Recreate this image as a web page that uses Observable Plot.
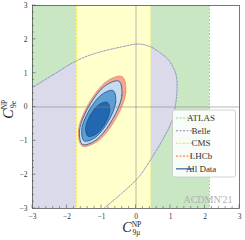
<!DOCTYPE html>
<html><head><meta charset="utf-8">
<script src="https://cdn.jsdelivr.net/npm/d3@7"></script>
<script src="https://cdn.jsdelivr.net/npm/@observablehq/plot@0.6"></script>
<style>body{margin:0;background:#fff} svg{display:block}</style>
</head><body><div id="chart"></div>
<script>
// ---- data ----
const xDomain = [-3, 3];
const yDomain = [-3, 3];
const xTicks = [-3, -2, -1, 0, 1, 2, 3];
const yTicks = [-3, -2, -1, 0, 1, 2, 3];

// vertical bands (1D constraints): ATLAS, CMS
const bandNames = ["ATLAS", "CMS"];
const bandLow  = [-4.5, -1.72];
const bandHigh = [2.13, 0.44];

// Belle contour (visible arc read off the picture + estimated hidden part outside the frame)
const belleX = [-3.0, -2.39, -1.72, -1.13, -0.40, 0.08, 0.42, 0.66, 0.95, 1.15, 1.19, 1.15, 1.05, 0.76, 0.44, 0.08, -0.40, -0.94, -1.5, -2.4, -3.3, -4.0, -4.3, -4.1, -3.6];
const belleY = [0.57, 0.96, 1.37, 1.60, 1.78, 1.86, 1.78, 1.63, 1.38, 0.99, 0.59, 0.10, -0.39, -0.99, -1.53, -2.07, -2.54, -3.00, -3.45, -3.85, -3.8, -3.2, -2.1, -0.9, 0.1];

// LHCb contour
const lhcbX = [-0.400, -0.295, -0.591, -1.115, -1.560, -1.665, -1.369, -0.845];
const lhcbY = [0.898, 0.436, -0.356, -1.014, -1.152, -0.690, 0.102, 0.760];

// All data: 3 sigma, 2 sigma, 1 sigma contours
const all3X = [-0.494, -0.409, -0.684, -1.157, -1.552, -1.637, -1.362, -0.889];
const all3Y = [0.763, 0.348, -0.372, -0.975, -1.107, -0.692, 0.028, 0.631];
const all2X = [-0.661, -0.589, -0.805, -1.183, -1.501, -1.573, -1.357, -0.979];
const all2Y = [0.483, 0.150, -0.423, -0.900, -1.003, -0.670, -0.097, 0.380];
const all1X = [-0.827, -0.759, -0.897, -1.159, -1.393, -1.461, -1.323, -1.061];
const all1Y = [0.136, -0.100, -0.490, -0.806, -0.864, -0.628, -0.238, 0.078];

const legendLabels = ["ATLAS", "Belle", "CMS", "LHCb", "All Data"];
const watermark = "ACDMN'21";

// ---- styles ----
const col = {
  atlasFill: "#c9e7c2", atlasLine: "#8fd98f",
  belleFill: "#dadaeb", belleLine: "#8a8ac4",
  cmsFill: "#ffffcc", cmsLine: "#eeee3a",
  lhcbFill: "#f6a792", lhcbLine: "#ec8466",
  c3: "#c4dbf0", c2: "#5e9fd3", c1: "#2268b0", cEdge: "#1f4d86",
  legendAll: "#5a7fab"
};
const legendColors = [col.atlasLine, col.belleLine, col.cmsLine, col.lhcbLine, col.legendAll];

const pts = (xs, ys) => xs.map((x, i) => ({x, y: ys[i]}));
const bands = bandNames.map((name, i) => ({name, lo: bandLow[i], hi: bandHigh[i]}));
const belle = pts(belleX, belleY);
const lhcb = pts(lhcbX, lhcbY);
const all3 = pts(all3X, all3Y), all2 = pts(all2X, all2Y), all1 = pts(all1X, all1Y);
const fmt = d => d < 0 ? "\u2212" + (-d) : String(d);
const closed = "catmull-rom-closed";

const chart = Plot.plot({
  width: 245, height: 240,
  marginLeft: 32, marginRight: 6, marginTop: 5, marginBottom: 32,
  x: {domain: xDomain, ticks: xTicks, tickFormat: fmt, label: null},
  y: {domain: yDomain, ticks: yTicks, tickFormat: fmt, label: null},
  style: {fontFamily: "'Liberation Serif', 'DejaVu Serif', serif", fontSize: "7.5px", background: "white", color: "#333"},
  marks: [
    Plot.rect([bands[0]], {x1: "lo", x2: "hi", fill: col.atlasFill, clip: true}),
    Plot.line(belle, {x: "x", y: "y", curve: closed, fill: col.belleFill, stroke: "none", clip: true}),
    Plot.rect([bands[1]], {x1: "lo", x2: "hi", fill: col.cmsFill, clip: true}),
    Plot.ruleX([bands[0].hi], {stroke: col.atlasLine, strokeWidth: 1, strokeDasharray: "2,1.5"}),
    Plot.ruleX([bands[1].lo, bands[1].hi], {stroke: col.cmsLine, strokeWidth: 1, strokeDasharray: "2,1.5"}),
    Plot.line(belle, {x: "x", y: "y", curve: closed, fill: "none", stroke: col.belleLine, strokeWidth: 0.9, strokeDasharray: "2,1.3", clip: true}),
    Plot.line(lhcb, {x: "x", y: "y", curve: closed, fill: col.lhcbFill, stroke: "none"}),
    Plot.line(all3, {x: "x", y: "y", curve: closed, fill: col.c3, stroke: col.cEdge, strokeWidth: 0.8}),
    Plot.line(all2, {x: "x", y: "y", curve: closed, fill: col.c2, stroke: col.cEdge, strokeWidth: 0.8}),
    Plot.line(all1, {x: "x", y: "y", curve: closed, fill: col.c1, stroke: col.cEdge, strokeWidth: 0.8}),
    Plot.line(lhcb, {x: "x", y: "y", curve: closed, fill: "none", stroke: col.lhcbLine, strokeWidth: 0.8}),
    Plot.ruleX([0], {stroke: "#888", strokeOpacity: 0.6, strokeWidth: 1}),
    Plot.ruleY([0], {stroke: "#888", strokeOpacity: 0.6, strokeWidth: 1.2}),
    Plot.frame({stroke: "#555", strokeWidth: 0.8}),
    Plot.axisX({ticks: xTicks, tickFormat: fmt, tickSize: 0, tickPadding: 5, label: null}),
    Plot.axisY({ticks: yTicks, tickFormat: fmt, tickSize: 0, tickPadding: 5, label: null}),
    Plot.text([watermark], {frameAnchor: "bottom-right", dx: -7, dy: -6, fill: "#b0b0b0", fontSize: 10, textAnchor: "end", lineAnchor: "bottom"})
  ]
});
document.getElementById("chart").appendChild(chart);

// ---- inward ticks, labels and legend ----
const svg = d3.select(chart);
const sx = chart.scale("x"), sy = chart.scale("y");
const X = v => sx.apply(v), Y = v => sy.apply(v);
const x0 = X(xDomain[0]), yB = Y(yDomain[0]);
const minor = d3.range(xDomain[0], xDomain[1] + 1e-9, 0.2);
const tg = svg.append("g").attr("stroke", "#555").attr("stroke-width", 0.6);
minor.forEach(v => {
  const major = Math.abs(v - Math.round(v)) < 1e-6;
  const len = major ? 3.5 : 2;
  tg.append("line").attr("x1", X(v)).attr("x2", X(v)).attr("y1", yB).attr("y2", yB - len);
  tg.append("line").attr("y1", Y(v)).attr("y2", Y(v)).attr("x1", x0).attr("x2", x0 + len);
});

const serif = "'Liberation Serif', 'DejaVu Serif', serif";
function mathLabel(g, sub) {
  g.append("text").attr("x", 0).attr("y", 0).attr("font-size", 14).attr("font-style", "italic").attr("font-family", serif).attr("fill", "#222").text("C");
  g.append("text").attr("x", 9.5).attr("y", -5.5).attr("font-size", 7.5).attr("font-family", serif).attr("fill", "#222").text("NP");
  g.append("text").attr("x", 9.5).attr("y", 3).attr("font-size", 7.5).attr("font-family", serif).attr("fill", "#222").text(sub);
}
mathLabel(svg.append("g").attr("transform", "translate(127,232)"), "9\u03bc");
mathLabel(svg.append("g").attr("transform", "translate(12.5,114) rotate(-90)"), "9e");

const lg = svg.append("g").attr("font-family", serif).attr("font-size", 9);
lg.append("rect").attr("x", 172.5).attr("y", 110).attr("width", 63).attr("height", 67).attr("rx", 2)
  .attr("fill", "white").attr("fill-opacity", 0.85).attr("stroke", "#c8c8c8").attr("stroke-width", 0.8);
legendLabels.forEach((lab, i) => {
  const yy = 118 + i * 12.7;
  lg.append("line").attr("x1", 176).attr("x2", 194).attr("y1", yy).attr("y2", yy)
    .attr("stroke", legendColors[i]).attr("stroke-width", i === 4 ? 1.5 : 1.1)
    .attr("stroke-dasharray", i === 4 ? null : "2,1.5");
  lg.append("text").attr("x", 201).attr("y", yy + 3).attr("fill", "#333").text(lab);
});
</script></body></html>
